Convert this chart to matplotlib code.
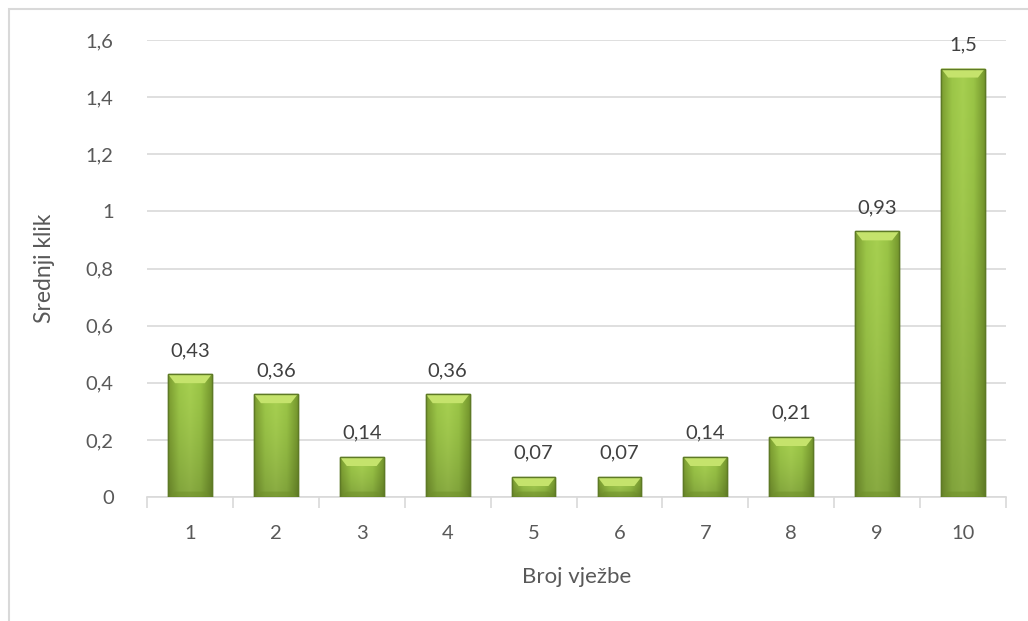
import numpy as np
import matplotlib
matplotlib.use("Agg")
import matplotlib.pyplot as plt
from matplotlib.patches import Polygon, Rectangle
from matplotlib.colors import to_rgb

categories = ["1", "2", "3", "4", "5", "6", "7", "8", "9", "10"]
values = [0.43, 0.36, 0.14, 0.36, 0.07, 0.07, 0.14, 0.21, 0.93, 1.5]
labels = ["0,43", "0,36", "0,14", "0,36", "0,07", "0,07", "0,14", "0,21", "0,93", "1,5"]
yticks = [0, 0.2, 0.4, 0.6, 0.8, 1.0, 1.2, 1.4, 1.6]
yticklabels = ["0", "0,2", "0,4", "0,6", "0,8", "1", "1,2", "1,4", "1,6"]

plt.rcParams['font.family'] = ['Lato', 'DejaVu Sans']
grey = "#595959"

fig = plt.figure(figsize=(10.28, 6.21), dpi=100)
ax = fig.add_axes([147 / 1028, 124 / 621, 859 / 1028, 457 / 621])

# outer chart border (left and top only visible)
fig.patches.append(Rectangle((9 / 1028, -0.1), 1.2, (612 / 621) + 0.1,
                             transform=fig.transFigure, fill=False,
                             edgecolor="#d9d9d9", linewidth=1.5))

x = np.arange(len(categories))
width = 0.51
ax.set_xlim(-0.5, len(categories) - 0.5)
ax.set_ylim(0, 1.6)

bars = ax.bar(x, values, width=width, color="#9bc448", edgecolor="#5e7a26",
              linewidth=1.0, zorder=3)

# shading inside each bar: horizontal profile, slightly darker toward bottom
hcols = [to_rgb(c) for c in ["#7b9c30", "#9cc648", "#a6cf50", "#9ac446", "#76982e"]]
hpos = np.linspace(0, 1, len(hcols))
xs = np.linspace(0, 1, 64)
hrow = np.stack([np.interp(xs, hpos, [c[i] for c in hcols]) for i in range(3)], axis=-1)

px_x = 1.0 / 85.9
px_y = 1.6 / 457
bev_x = 7 * px_x
bev_y = 9 * px_y
for b, v in zip(bars, values):
    x0 = b.get_x()
    x1 = x0 + b.get_width()
    hpx = max(int(v / px_y), 2)
    ys = np.linspace(1, 0, hpx)  # top -> bottom
    shade = 1.0 - 0.18 * (1 - ys) ** 1.5
    img = hrow[None, :, :] * shade[:, None, None]
    im = ax.imshow(np.clip(img, 0, 1), extent=(x0, x1, 0, v), aspect="auto", zorder=3)
    im.set_clip_path(b)
    by = min(bev_y, v / 2)
    top = Polygon([(x0, v), (x1, v), (x1 - bev_x, v - by), (x0 + bev_x, v - by)],
                  closed=True, facecolor="#c5e36c", edgecolor="none", zorder=4)
    ax.add_patch(top)
    bot = Polygon([(x0, 0), (x1, 0), (x1 - bev_x, by * 0.6), (x0 + bev_x, by * 0.6)],
                  closed=True, facecolor="#6f8f2a", edgecolor="none", alpha=0.5, zorder=4)
    ax.add_patch(bot)
    ax.add_patch(Rectangle((x0, 0), x1 - x0, v, fill=False, edgecolor="#5e7a26",
                           linewidth=1.0, zorder=5))

for xi, v, lab in zip(x, values, labels):
    ax.annotate(lab, (xi, v), xytext=(0, 11), textcoords="offset points",
                ha="center", va="bottom", fontsize=14.5, color="#404040")

ax.set_yticks(yticks)
ax.set_yticklabels(yticklabels)
ax.set_xticks(x)
ax.set_xticklabels(categories)
ax.set_xticks(np.arange(-0.5, len(categories)), minor=True)
ax.tick_params(axis="y", length=0, pad=24, labelsize=14.5, labelcolor=grey)
ax.tick_params(axis="x", which="major", length=0, pad=20, labelsize=14.5, labelcolor=grey)
ax.tick_params(axis="x", which="minor", length=8, color="#d9d9d9", width=1.2)
ax.grid(axis="y", color="#d9d9d9", linewidth=1.2, zorder=0)
for s in ["top", "right", "left"]:
    ax.spines[s].set_visible(False)
ax.spines["bottom"].set_color("#d9d9d9")
ax.spines["bottom"].set_linewidth(1.2)

ax.set_xlabel("Broj vježbe", fontsize=16, color=grey, labelpad=18)
ax.set_ylabel("Srednji klik", fontsize=16.5, color=grey, labelpad=22)

fig.savefig("out.png", dpi=100)
